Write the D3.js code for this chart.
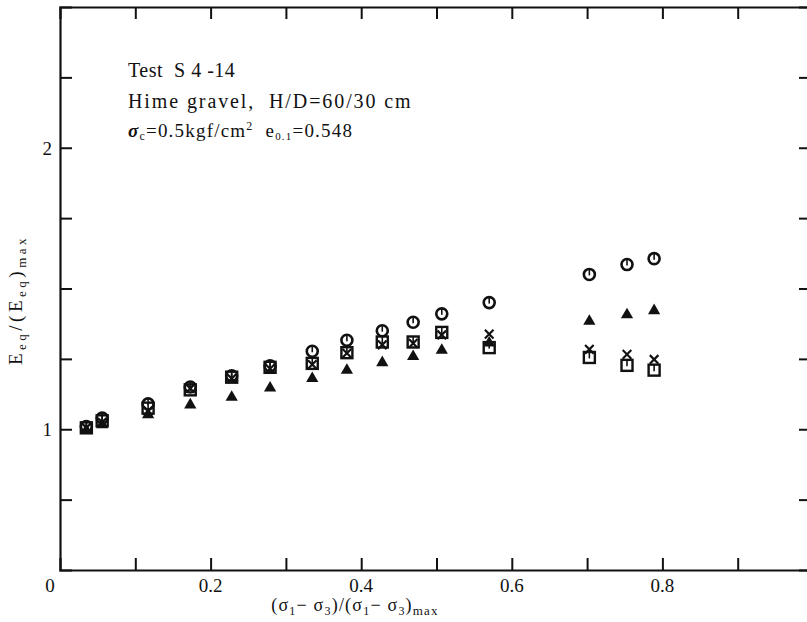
<!DOCTYPE html>
<html>
<head>
<meta charset="utf-8">
<script src="https://cdn.jsdelivr.net/npm/d3@7"></script>
<style>
  body { margin: 0; background: #fff; }
  svg text { font-family: "Liberation Serif", "Times New Roman", "DejaVu Serif", serif; fill: #111; }
</style>
</head>
<body>
<div id="chart"></div>
<script>
// Data
const xVals = [0.035, 0.056, 0.117, 0.173, 0.228, 0.279, 0.335, 0.381, 0.428, 0.469, 0.507, 0.570, 0.703, 0.753, 0.789]
const circleVals = [1.01, 1.04, 1.09, 1.15, 1.19, 1.225, 1.277, 1.316, 1.35, 1.38, 1.41, 1.45, 1.55, 1.585, 1.606]
const squareVals = [1.005, 1.03, 1.075, 1.14, 1.185, 1.22, 1.234, 1.272, 1.31, 1.31, 1.344, 1.29, 1.255, 1.227, 1.21]
const triangleVals = [1.0, 1.02, 1.055, 1.09, 1.117, 1.15, 1.184, 1.213, 1.24, 1.262, 1.284, 1.31, 1.387, 1.41, 1.425]
const crossVals = [1.005, 1.025, 1.065, 1.145, 1.18, 1.215, 1.23, 1.27, 1.3, 1.305, 1.335, 1.338, 1.284, 1.266, 1.248]
const xTickLabels = [0, 0.2, 0.4, 0.6, 0.8]
const yTickLabels = [1, 2]

const width = 807
const height = 622
const margin = { top: 7, right: -6, bottom: 52, left: 60 }
const serif = '"Liberation Serif", "Times New Roman", "DejaVu Serif", serif'

const svg = d3.select('#chart')
  .append('svg')
  .attr('width', width)
  .attr('height', height)
  .attr('font-family', serif)

const xScale = d3.scaleLinear()
  .domain([0, 1])
  .range([margin.left, width - margin.right])

const yScale = d3.scaleLinear()
  .domain([0.5, 2.5])
  .range([height - margin.bottom, margin.top])

const x0 = xScale(0), x1 = xScale(1)
const y0 = yScale(0.5), y1 = yScale(2.5)

// Axes (ticks point inward)
const xTicks = d3.range(1, 10).map(d => d / 10)
const yTicks = d3.range(0.75, 2.5, 0.25)

svg.append('g')
  .attr('transform', `translate(0, ${y0})`)
  .call(d3.axisBottom(xScale).tickValues(xTicks).tickSize(-12).tickFormat(''))
svg.append('g')
  .attr('transform', `translate(0, ${y1})`)
  .call(d3.axisTop(xScale).tickValues(xTicks).tickSize(-12).tickFormat(''))
svg.append('g')
  .attr('transform', `translate(${x0}, 0)`)
  .call(d3.axisLeft(yScale).tickValues(yTicks).tickSize(-12).tickFormat(''))
svg.append('g')
  .attr('transform', `translate(${x1}, 0)`)
  .call(d3.axisRight(yScale).tickValues(yTicks).tickSize(-14).tickFormat(''))

svg.selectAll('.domain').attr('stroke', '#111').attr('stroke-width', 2.2)
svg.selectAll('.tick line').attr('stroke', '#111').attr('stroke-width', 2)

// Tick labels
svg.selectAll('.xlab')
  .data(xTickLabels)
  .join('text')
  .attr('x', d => d === 0 ? xScale(d) - 10 : xScale(d))
  .attr('y', y0 + 22)
  .attr('text-anchor', 'middle')
  .attr('font-size', 19)
  .text(d => d === 0 ? '0' : d.toFixed(1))

svg.selectAll('.ylab')
  .data(yTickLabels)
  .join('text')
  .attr('x', x0 - 8)
  .attr('y', d => yScale(d) + 7)
  .attr('text-anchor', 'end')
  .attr('font-size', 19)
  .text(d => d)

// Axis titles
const xt = svg.append('text')
  .attr('x', 355)
  .attr('y', 611)
  .attr('text-anchor', 'middle')
  .attr('font-size', 18)
  .attr('letter-spacing', 1.2)
xt.append('tspan').text('(σ')
xt.append('tspan').attr('font-size', 12).attr('dy', 4).text('1')
xt.append('tspan').attr('dy', -4).text('− σ')
xt.append('tspan').attr('font-size', 12).attr('dy', 4).text('3')
xt.append('tspan').attr('dy', -4).text(')/(σ')
xt.append('tspan').attr('font-size', 12).attr('dy', 4).text('1')
xt.append('tspan').attr('dy', -4).text('− σ')
xt.append('tspan').attr('font-size', 12).attr('dy', 4).text('3')
xt.append('tspan').attr('dy', -4).text(')')
xt.append('tspan').attr('font-size', 13).attr('dy', 4).text('max')

const yt = svg.append('text')
  .attr('transform', 'translate(22, 300) rotate(-90)')
  .attr('text-anchor', 'middle')
  .attr('font-size', 19)
  .attr('letter-spacing', 3.5)
yt.append('tspan').text('E')
yt.append('tspan').attr('font-size', 13).attr('dy', 4).text('eq')
yt.append('tspan').attr('dy', -4).text('/(E')
yt.append('tspan').attr('font-size', 13).attr('dy', 4).text('eq')
yt.append('tspan').attr('dy', -4).text(')')
yt.append('tspan').attr('font-size', 13).attr('dy', 4).text('max')

// Annotation
svg.append('text').attr('x', 128).attr('y', 77).attr('font-size', 20).attr('letter-spacing', 0.5)
  .attr('xml:space', 'preserve').text('Test  S 4 -14')
svg.append('text').attr('x', 128).attr('y', 108).attr('font-size', 20).attr('letter-spacing', 1.9)
  .attr('xml:space', 'preserve').text('Hime gravel,  H/D=60/30 cm')
const a3 = svg.append('text').attr('x', 128).attr('y', 137).attr('font-size', 19).attr('letter-spacing', 1.2)
a3.append('tspan').attr('font-style', 'italic').attr('font-weight', 'bold').text('σ')
a3.append('tspan').attr('font-size', 12).attr('dy', 3).text('c')
a3.append('tspan').attr('dy', -3).text('=0.5kgf/cm')
a3.append('tspan').attr('font-size', 12).attr('dy', -7).text('2')
a3.append('tspan').attr('dy', 7).attr('dx', 12).text('e')
a3.append('tspan').attr('font-size', 11).attr('dy', 3).text('0.1')
a3.append('tspan').attr('dy', -3).text('=0.548')

// Markers
const pts = (vals) => xVals.map((x, i) => ({ x, y: vals[i] }))
const markerG = svg.append('g')

markerG.selectAll('.sq')
  .data(pts(squareVals))
  .join('rect')
  .attr('x', d => xScale(d.x) - 5.5)
  .attr('y', d => yScale(d.y) - 5.5)
  .attr('width', 11)
  .attr('height', 11)
  .attr('fill', 'none')
  .attr('stroke', '#111')
  .attr('stroke-width', 2.4)

markerG.selectAll('.sqline')
  .data(pts(squareVals))
  .join('line')
  .attr('x1', d => xScale(d.x))
  .attr('x2', d => xScale(d.x))
  .attr('y1', d => yScale(d.y) - 5)
  .attr('y2', d => yScale(d.y) + 1)
  .attr('stroke', '#111')
  .attr('stroke-width', 1.6)

markerG.selectAll('.tri')
  .data(pts(triangleVals))
  .join('path')
  .attr('d', d3.symbol(d3.symbolTriangle, 65))
  .attr('transform', d => `translate(${xScale(d.x)}, ${yScale(d.y) + 1})`)
  .attr('fill', '#111')

markerG.selectAll('.cross')
  .data(pts(crossVals))
  .join('path')
  .attr('d', d3.symbol(d3.symbolX, 50))
  .attr('transform', d => `translate(${xScale(d.x)}, ${yScale(d.y)})`)
  .attr('fill', 'none')
  .attr('stroke', '#111')
  .attr('stroke-width', 2.2)

markerG.selectAll('.circ')
  .data(pts(circleVals))
  .join('circle')
  .attr('cx', d => xScale(d.x))
  .attr('cy', d => yScale(d.y))
  .attr('r', 5.5)
  .attr('fill', 'none')
  .attr('stroke', '#111')
  .attr('stroke-width', 2.6)

markerG.selectAll('.circline')
  .data(pts(circleVals))
  .join('line')
  .attr('x1', d => xScale(d.x))
  .attr('x2', d => xScale(d.x))
  .attr('y1', d => yScale(d.y) - 5)
  .attr('y2', d => yScale(d.y) + 1)
  .attr('stroke', '#111')
  .attr('stroke-width', 1.6)
</script>
</body>
</html>
